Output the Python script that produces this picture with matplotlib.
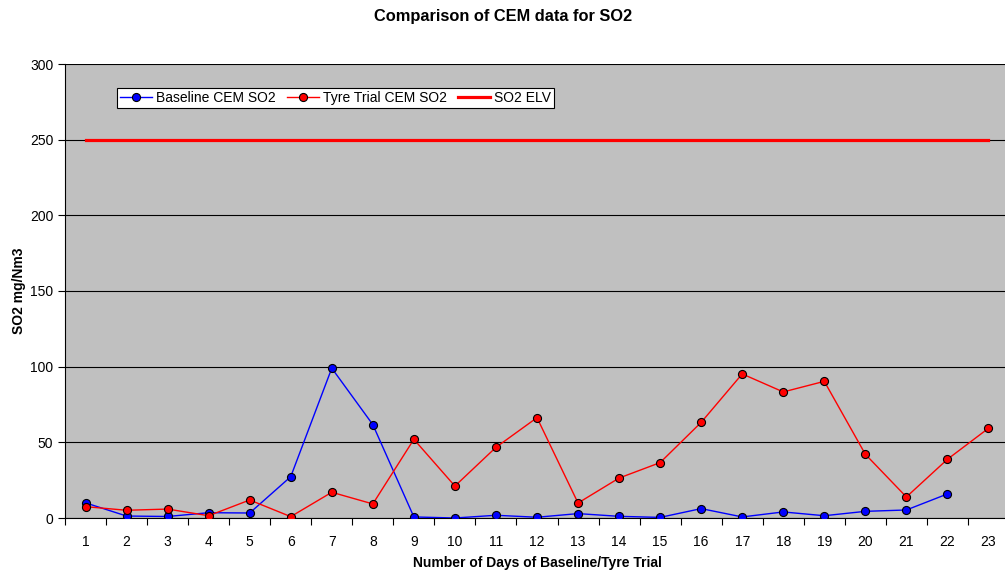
import numpy as np
import matplotlib
matplotlib.use("Agg")
import matplotlib.pyplot as plt

plt.rcParams['font.family'] = ['Liberation Sans', 'DejaVu Sans']

days = list(range(1, 24))
baseline = [10, 1.3, 1, 3.5, 3.3, 27.3, 99, 61.7, 0.7, 0, 1.8, 0.5, 2.9, 1.1, 0.4,
            6.2, 0.7, 4, 1.5, 4.4, 5.3, 15.9]
tyre = [7.5, 5.1, 5.9, 1.5, 11.9, 0.9, 17, 9.3, 52, 21.1, 46.7, 66.3, 9.9, 26.4, 36.6,
        63.2, 95.2, 83.3, 90.3, 42.1, 13.9, 38.8, 59.3]
elv = [250] * 23

fig = plt.figure(figsize=(10.05, 5.74), dpi=100)
ax = fig.add_axes([65/1005, 56/574, 944/1005, 454/574])
ax.set_facecolor('#C0C0C0')

ax.plot(days[:len(baseline)], baseline, color='#0000FF', lw=1.0, marker='o', ms=5.8,
        mfc='#0000FF', mec='black', mew=0.8, label='Baseline CEM SO2', zorder=3)
ax.plot(days, tyre, color='#FF0000', lw=1.0, marker='o', ms=5.8,
        mfc='#FF0000', mec='black', mew=0.8, label='Tyre Trial CEM SO2', zorder=3)
ax.plot(days, elv, color='#FF0000', lw=2.3, label='SO2 ELV', zorder=3)

ax.set_xlim(0.5, 23.5)
ax.set_ylim(0, 300)
ax.set_yticks(np.arange(0, 301, 50))
ax.yaxis.grid(True, color='black', lw=0.8)
ax.set_axisbelow(True)

ax.set_xticks(days)
ax.set_xticks(np.arange(0.5, 24, 1), minor=True)
ax.tick_params(axis='x', which='major', length=0, labelsize=10, pad=12)
ax.tick_params(axis='x', which='minor', length=5, direction='out', width=0.8)
ax.tick_params(axis='y', length=5, direction='out', labelsize=10, width=0.8)

for s in ['top', 'right']:
    ax.spines[s].set_visible(False)
ax.spines['left'].set_linewidth(0.8)
ax.spines['bottom'].set_linewidth(0.8)

ax.set_xlabel('Number of Days of Baseline/Tyre Trial', fontsize=10, fontweight='bold', labelpad=5)
ax.set_ylabel('SO2 mg/Nm3', fontsize=10, fontweight='bold', labelpad=3)
fig.text(503/1005, 1 - 16/574, 'Comparison of CEM data for SO2', ha='center', va='center',
         fontsize=11.8, fontweight='bold')

leg = ax.legend(ncol=3, loc='upper left', bbox_to_anchor=(117/1005, 1 - 88/574),
                bbox_transform=fig.transFigure, fontsize=10, frameon=True, fancybox=False,
                edgecolor='black', framealpha=1, borderpad=0.2, handlelength=2.3,
                handletextpad=0.3, columnspacing=0.8, borderaxespad=0)
leg.get_frame().set_linewidth(0.8)

fig.savefig('out.png', dpi=100)
